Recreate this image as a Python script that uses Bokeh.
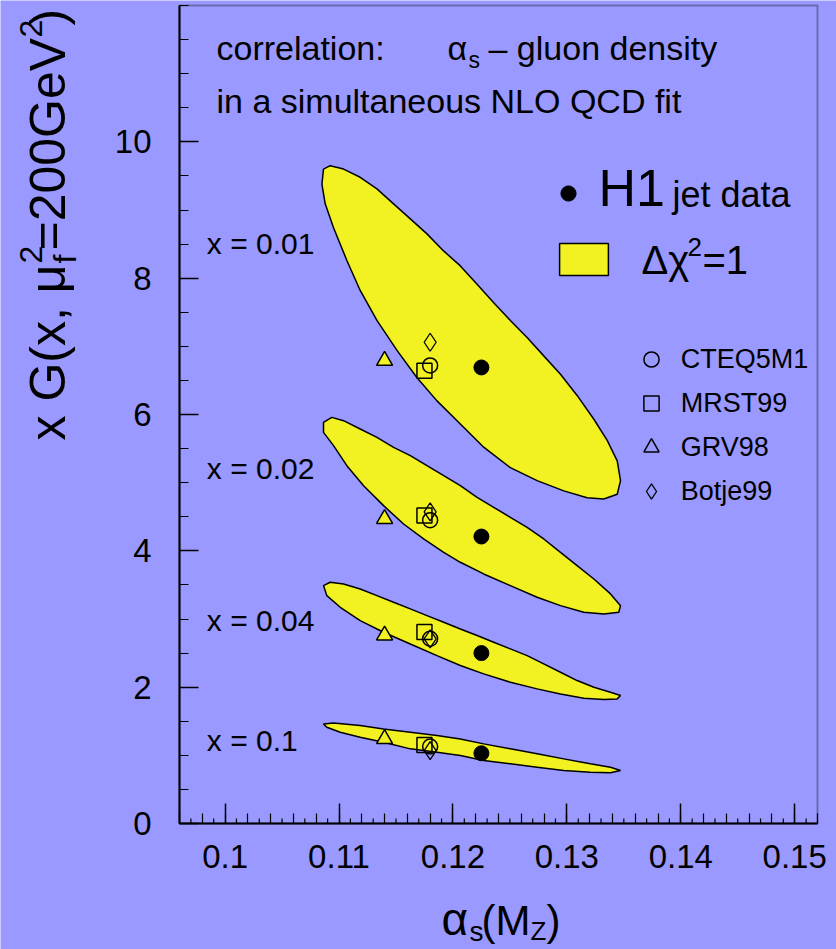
import numpy as np
from bokeh.plotting import figure
from bokeh.models import Range1d, FixedTicker, Label, Legend, LegendItem, LinearAxis, BoxAnnotation
from bokeh.embed import file_html
from bokeh.resources import INLINE

# ---------------- data ----------------
# Delta chi^2 = 1 contours, alpha_s vs xG for four x values
c001_alpha = [0.10864, 0.10923, 0.11040, 0.11186, 0.11333, 0.11479, 0.11626, 0.11772, 0.11918, 0.12065,
              0.12212, 0.12358, 0.12504, 0.12651, 0.12797, 0.12944, 0.13090, 0.13237, 0.13354, 0.13442,
              0.13471, 0.13442, 0.13324, 0.13178, 0.12973, 0.12739, 0.12504, 0.12270, 0.12065, 0.11860,
              0.11685, 0.11509, 0.11333, 0.11186, 0.11069, 0.10952, 0.10879, 0.10850]
c001_g = [9.60, 9.65, 9.60, 9.48, 9.31, 9.09, 8.87, 8.65, 8.40, 8.18,
          7.91, 7.64, 7.38, 7.13, 6.86, 6.59, 6.28, 5.93, 5.62, 5.32,
          5.03, 4.83, 4.76, 4.78, 4.88, 5.03, 5.22, 5.52, 5.86, 6.20,
          6.54, 6.94, 7.38, 7.82, 8.26, 8.74, 9.09, 9.38]

c002_alpha = [0.10864, 0.10937, 0.11040, 0.11186, 0.11333, 0.11479, 0.11626, 0.11772, 0.11919, 0.12065,
              0.12212, 0.12358, 0.12504, 0.12651, 0.12797, 0.12944, 0.13090, 0.13237, 0.13383, 0.13471,
              0.13456, 0.13325, 0.13149, 0.12944, 0.12739, 0.12504, 0.12270, 0.12065, 0.11919, 0.11743,
              0.11567, 0.11391, 0.11216, 0.11069, 0.10952, 0.10864]
c002_g = [5.885, 5.958, 5.909, 5.787, 5.665, 5.518, 5.396, 5.249, 5.103, 4.956,
          4.785, 4.638, 4.492, 4.345, 4.174, 3.978, 3.783, 3.587, 3.368, 3.196,
          3.099, 3.074, 3.099, 3.196, 3.319, 3.490, 3.661, 3.832, 3.978, 4.174,
          4.394, 4.663, 4.956, 5.249, 5.543, 5.738]

c004_alpha = [0.10864, 0.10923, 0.11040, 0.11186, 0.11333, 0.11479, 0.11626, 0.11772, 0.11919, 0.12065,
              0.12212, 0.12358, 0.12504, 0.12651, 0.12797, 0.12944, 0.13090, 0.13237, 0.13383, 0.13471,
              0.13442, 0.13325, 0.13149, 0.12944, 0.12739, 0.12504, 0.12270, 0.12065, 0.11860, 0.11626,
              0.11391, 0.11186, 0.11011, 0.10893]
c004_g = [3.490, 3.539, 3.514, 3.441, 3.343, 3.245, 3.148, 3.050, 2.952, 2.854,
          2.757, 2.659, 2.561, 2.463, 2.341, 2.219, 2.097, 1.999, 1.926, 1.877,
          1.828, 1.818, 1.838, 1.901, 1.975, 2.072, 2.195, 2.317, 2.463, 2.634,
          2.805, 2.977, 3.172, 3.343]

c01_alpha = [0.10864, 0.10952, 0.11186, 0.11391, 0.11626, 0.11860, 0.12065, 0.12270, 0.12504, 0.12739,
             0.12973, 0.13207, 0.13383, 0.13471, 0.13383, 0.13207, 0.12973, 0.12739, 0.12504, 0.12270,
             0.12065, 0.11860, 0.11626, 0.11391, 0.11186, 0.11011, 0.10893]
c01_g = [1.461, 1.476, 1.437, 1.388, 1.339, 1.290, 1.241, 1.168, 1.095, 1.022,
         0.948, 0.875, 0.826, 0.777, 0.743, 0.753, 0.777, 0.826, 0.875, 0.924,
         0.997, 1.046, 1.095, 1.193, 1.266, 1.339, 1.412]

# fit results and PDF parametrisations, one value per x (0.01, 0.02, 0.04, 0.1)
h1_alpha = [0.1225, 0.1225, 0.1225, 0.1225]
h1_g = [6.69, 4.21, 2.50, 1.03]
cteq_alpha = [0.1180, 0.1180, 0.1180, 0.1180]
cteq_g = [6.72, 4.45, 2.71, 1.13]
mrst_alpha = [0.1175, 0.1175, 0.1175, 0.1175]
mrst_g = [6.64, 4.52, 2.81, 1.15]
grv_alpha = [0.1140, 0.1140, 0.1140, 0.1140]
grv_g = [6.79, 4.47, 2.76, 1.24]
botje_alpha = [0.1180, 0.1180, 0.1180, 0.1180]
botje_g = [7.06, 4.57, 2.71, 1.07]

x_labels = ["x = 0.01", "x = 0.02", "x = 0.04", "x = 0.1"]
x_label_alpha = [0.0984, 0.0984, 0.0984, 0.0984]
x_label_g = [8.26, 4.96, 2.74, 0.98]

x_major = [0.10, 0.11, 0.12, 0.13, 0.14, 0.15]
y_major = [0, 2, 4, 6, 8, 10]
X_LO, X_HI = 0.096, 0.152
Y_LO, Y_HI = 0.0, 12.0

# ---------------- styling / layout ----------------
BG = "#9999ff"
YEL = "#f2f222"
FONT = "Liberation Sans"
W, H = 836, 949
F_L, F_R, F_T, F_B = 179, 817, 5, 823        # pixel box of the drawn frame
sx_per = (F_R - F_L) / (X_HI - X_LO)
sy_per = (F_B - F_T) / (Y_HI - Y_LO)
# the figure's own frame covers the whole canvas; ranges extended so the box sits at F_*
x_rng = Range1d(X_LO - F_L / sx_per, X_HI + (W - F_R) / sx_per)
y_rng = Range1d(Y_LO - (H - F_B) / sy_per, Y_HI + F_T / sy_per)

p = figure(width=W, height=H, output_backend="svg", toolbar_location=None,
           x_range=x_rng, y_range=y_rng, x_axis_type=None, y_axis_type=None, min_border=0)
p.background_fill_color = BG
p.border_fill_color = BG
p.outline_line_color = None

x_minor = list(np.round(np.arange(0.096, 0.15201, 0.002), 3))
x_tiny = np.round(np.arange(0.097, 0.1521, 0.002), 3)
y_minor = list(np.arange(0, 12.01, 0.5))

xax = LinearAxis(fixed_location=Y_LO, bounds=(X_LO, X_HI),
                 ticker=FixedTicker(ticks=x_major, minor_ticks=x_minor))
yax = LinearAxis(fixed_location=X_LO, bounds=(Y_LO, Y_HI),
                 ticker=FixedTicker(ticks=y_major, minor_ticks=y_minor))
for ax in (xax, yax):
    ax.axis_line_color = "black"
    ax.axis_line_width = 2
    ax.major_tick_line_color = "black"
    ax.minor_tick_line_color = "black"
    ax.major_tick_line_width = 1.5
    ax.minor_tick_line_width = 1.2
    ax.major_tick_out = 0
    ax.minor_tick_out = 0
    ax.major_label_text_font = FONT
    ax.major_label_text_font_size = "33px"
    ax.major_label_text_color = "black"
xax.major_tick_in = 20
xax.minor_tick_in = 10
xax.major_label_standoff = 21
yax.major_tick_in = 19
yax.minor_tick_in = 9
yax.major_label_standoff = 28
p.add_layout(xax, "below")
p.add_layout(yax, "left")

# plot box
p.add_layout(BoxAnnotation(left=X_LO, right=X_HI, bottom=Y_LO, top=Y_HI, fill_color=None,
                           line_color="black", line_width=2))

# finest x ticks (every 0.001)
tick_len = 5 / sy_per
p.segment(x0=x_tiny, y0=np.zeros(len(x_tiny)), x1=x_tiny, y1=np.full(len(x_tiny), tick_len),
          line_color="black", line_width=1.2)

# contours
r_c001 = p.patch(c001_alpha, c001_g, fill_color=YEL, line_color="black", line_width=1.5)
p.patch(c002_alpha, c002_g, fill_color=YEL, line_color="black", line_width=1.5)
p.patch(c004_alpha, c004_g, fill_color=YEL, line_color="black", line_width=1.5)
p.patch(c01_alpha, c01_g, fill_color=YEL, line_color="black", line_width=1.5)

# PDF points
p.scatter(grv_alpha, grv_g, marker="triangle", size=16, fill_color=YEL, line_color=None)
r_grv = p.scatter(grv_alpha, grv_g, marker="triangle", size=16, fill_color=None, line_color="black", line_width=1.5)
r_mrst = p.scatter(mrst_alpha, mrst_g, marker="square", size=15, fill_color=None, line_color="black", line_width=1.5)
r_cteq = p.scatter(cteq_alpha, cteq_g, marker="circle", size=15, fill_color=None, line_color="black", line_width=1.5)
r_botje = p.scatter(botje_alpha, botje_g, marker="diamond", size=18, fill_color=None, line_color="black", line_width=1.3)

# H1 points
r_h1 = p.scatter(h1_alpha, h1_g, marker="circle", size=15, fill_color="black", line_color="black")

# legends (locations: lower-left corner in screen pixels from the canvas bottom-left)
leg_a = Legend(items=[LegendItem(label="", renderers=[r_h1])], location=(549, H - 212),
               glyph_width=38, glyph_height=38, padding=0, margin=0, label_text_font_size="1px",
               border_line_color=None, background_fill_alpha=0)
leg_b = Legend(items=[LegendItem(label="", renderers=[r_c001])], location=(553, H - 279),
               glyph_width=61, glyph_height=40, padding=0, margin=0, label_text_font_size="1px",
               border_line_color=None, background_fill_alpha=0)
leg_c = Legend(items=[LegendItem(label="CTEQ5M1", renderers=[r_cteq]),
                      LegendItem(label="MRST99", renderers=[r_mrst]),
                      LegendItem(label="GRV98", renderers=[r_grv]),
                      LegendItem(label="Botje99", renderers=[r_botje])],
               location=(631.7, H - 510), glyph_width=38, glyph_height=38, spacing=6, label_standoff=11,
               label_height=38, padding=0, margin=0, label_text_font=FONT, label_text_font_size="27px",
               label_text_color="black", border_line_color=None, background_fill_alpha=0)
for lg in (leg_a, leg_b, leg_c):
    p.add_layout(lg)

# x labels next to contours
for t, xa, yg in zip(x_labels, x_label_alpha, x_label_g):
    p.add_layout(Label(x=xa, y=yg, text=t, text_font=FONT, text_font_size="30px", text_color="black"))

K = 0.4   # offset between the Label anchor and where the glyph baseline lands (fraction of font size)


def slabel(x, y, text, size, angle=0.0):
    """text starting at canvas pixel x with its baseline at canvas pixel y (from the top)"""
    if angle == 0.0:
        ax_, ay_ = x, y - K * size
    else:
        ax_, ay_ = x - K * size, y
    p.add_layout(Label(x=ax_, y=H - ay_, x_units="screen", y_units="screen", text=text, text_font=FONT,
                       text_font_size=f"{size}px", text_color="black", angle=angle,
                       text_align="left", text_baseline="alphabetic"))


# header text
slabel(216, 61, "correlation:", 34)
slabel(447, 61, "\u03b1", 34)
slabel(468, 69, "s", 23)
slabel(488, 61, "\u2013 gluon density", 34)
slabel(216, 114, "in a simultaneous NLO QCD fit", 34)

# legend texts
slabel(598, 208, "H1", 52)
slabel(672, 208, "jet data", 36)
slabel(641, 275, "\u0394\u03c7", 40)
slabel(687, 257, "2", 26)
slabel(702, 275, "=1", 40)

# x axis title
slabel(441, 937, "\u03b1", 46)
slabel(469, 942, "s", 28)
slabel(481, 937, "(M", 42)
slabel(530, 941, "Z", 26)
slabel(546, 937, ")", 42)

# y axis title (rotated, reads bottom to top)
A = np.pi / 2
slabel(67, 440, "x G(x, \u03bc", 50, A)
slabel(77, 263, "f", 32, A)
slabel(43, 263, "2", 32, A)
slabel(67, 250, "=200GeV", 50, A)
slabel(43, 37, "2", 32, A)
slabel(67, 25, ")", 50, A)

open("out.html", "w").write(file_html(p, INLINE))
